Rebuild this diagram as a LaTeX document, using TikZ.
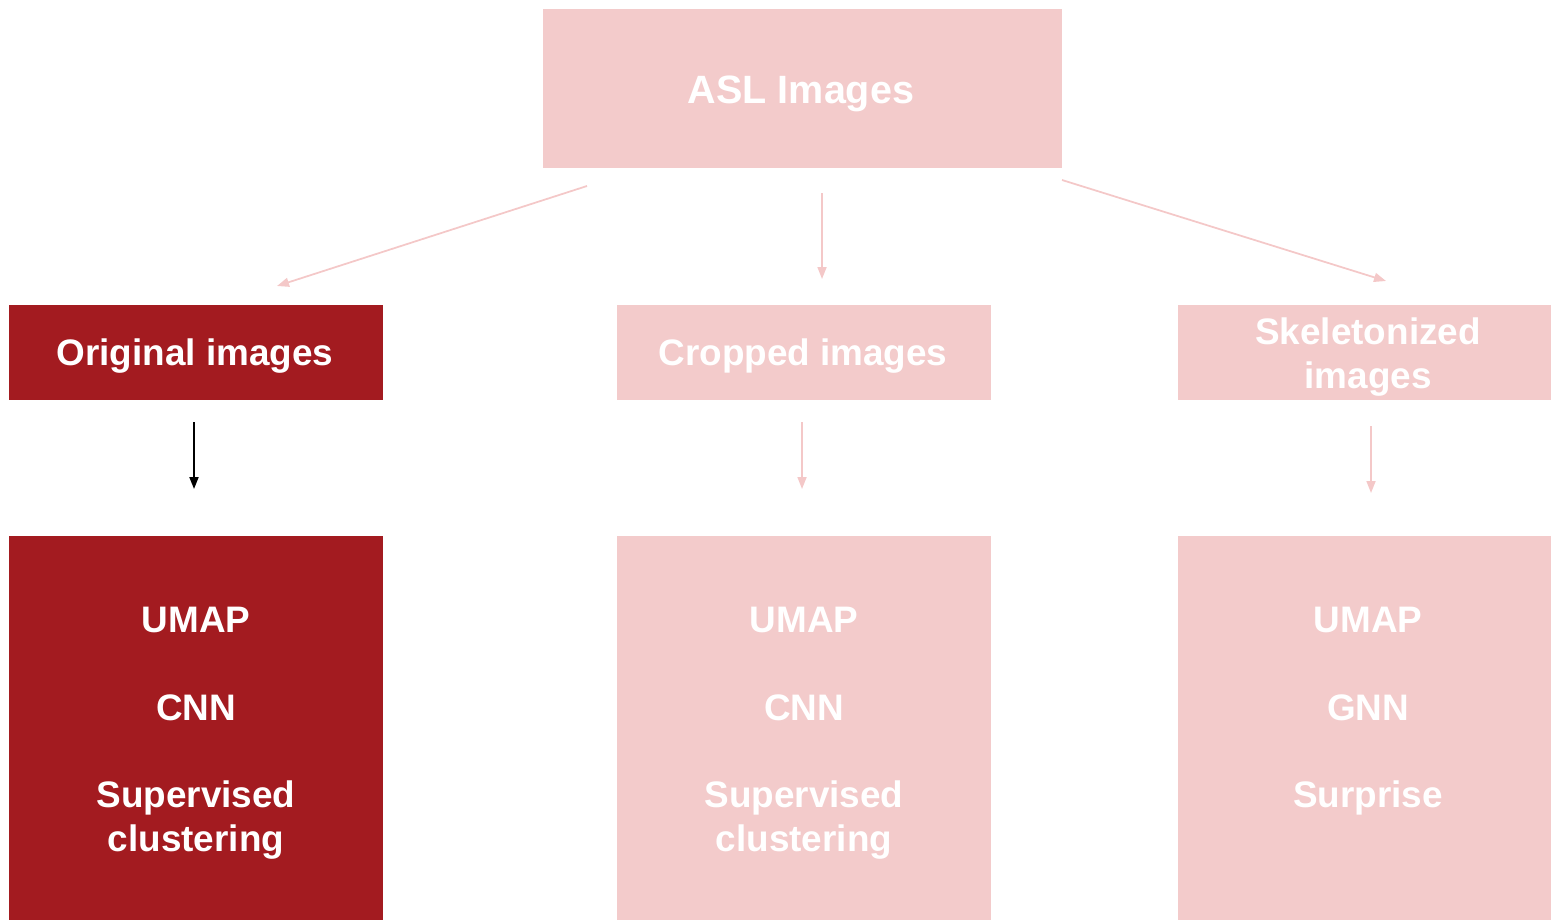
\documentclass[tikz,border=0pt]{standalone}
\usepackage{fontspec}
\setmainfont{Liberation Sans}
\usetikzlibrary{arrows.meta}
\definecolor{darkred}{HTML}{A31B20}
\definecolor{softpink}{HTML}{F3CBCB}
\definecolor{linkpink}{HTML}{F4C8C8}
\begin{document}
\begin{tikzpicture}[x=0.02cm,y=-0.02cm,
  box/.style={rectangle,inner sep=0pt,outer sep=0pt,fill=#1},
  headbox/.style={box=#1,minimum width=7.48cm,minimum height=1.9cm},
  methbox/.style={box=#1,minimum width=7.48cm,minimum height=7.68cm},
  lbl/.style={text=white,font=\fontsize{21}{25}\selectfont\bfseries,align=center,inner sep=0pt},
  link/.style={draw=linkpink,line width=1pt,-{Triangle[length=0.24cm,width=0.18cm]}},
  blacklink/.style={draw=black,line width=1pt,-{Triangle[length=0.24cm,width=0.18cm]}}]
\useasboundingbox (0,0) rectangle (1552,920);

% source
\node[box=softpink,minimum width=10.38cm,minimum height=3.18cm] (asl) at (802.5,88.5) {};
\node[lbl,anchor=base,font=\fontsize{22.5}{26}\selectfont\bfseries] (asltxt) at (801,103) {ASL Images};

% image variants
\node[headbox=darkred] (orig) at (196,352.5) {};
\node[lbl,anchor=base] (origtxt) at (195,365) {Original images};
\node[headbox=softpink] (crop) at (804,352.5) {};
\node[lbl,anchor=base] (croptxt) at (803,365) {Cropped images};
\node[headbox=softpink] (skel) at (1364.5,352.5) {};
\node[lbl,anchor=north] (skeltxt) at (1368,317.5) {Skeletonized\\images};

% methods
\node[methbox=darkred] (origm) at (196,728) {};
\node[methbox=softpink] (cropm) at (804,728) {};
\node[methbox=softpink] (skelm) at (1364.5,728) {};
\node[lbl,anchor=north] (origmtxt) at (196,606.5) {UMAP\\[25pt]CNN\\[25pt]Supervised\\clustering};
\node[lbl,anchor=north] (cropmtxt) at (804,606.5) {UMAP\\[25pt]CNN\\[25pt]Supervised\\clustering};
\node[lbl,anchor=north] (skelmtxt) at (1368,606.5) {UMAP\\[25pt]GNN\\[25pt]Surprise};

% connector ends
\coordinate (a1) at (587,186);  \coordinate (b1) at (277,286);
\coordinate (a2) at (822,193);  \coordinate (b2) at (822,279);
\coordinate (a3) at (1062,180); \coordinate (b3) at (1386,281);
\coordinate (c1) at (194,422);  \coordinate (d1) at (194,489);
\coordinate (c2) at (802,422);  \coordinate (d2) at (802,489);
\coordinate (c3) at (1371,426); \coordinate (d3) at (1371,493);

\draw[link] (a1) -- (b1);
\draw[link] (a2) -- (b2);
\draw[link] (a3) -- (b3);
\draw[blacklink] (c1) -- (d1);
\draw[link] (c2) -- (d2);
\draw[link] (c3) -- (d3);
\end{tikzpicture}
\end{document}
